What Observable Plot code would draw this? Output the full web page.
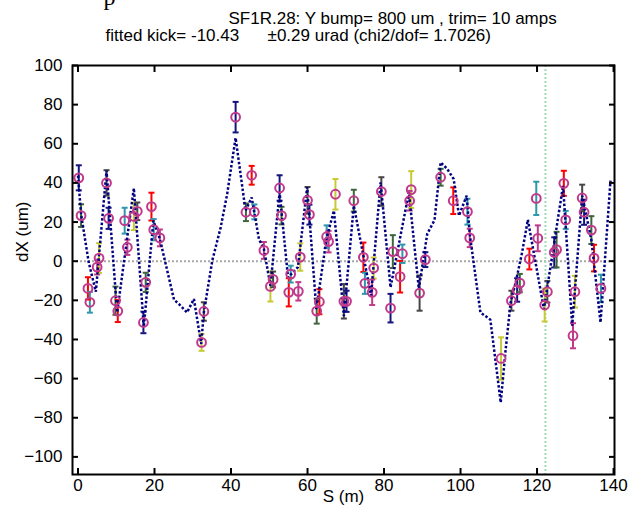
<!DOCTYPE html>
<html><head><meta charset="utf-8">
<script src="https://cdn.jsdelivr.net/npm/d3@7"></script>
<script src="https://cdn.jsdelivr.net/npm/@observablehq/plot@0.6"></script>
<style>
html,body{margin:0;padding:0;background:#fff;}
#chart svg{display:block;}
</style></head><body><div id="chart"></div>
<script>
// BPM measurements (S in m, dX in um, error in um)
const bpmS = [0.2,0.8,2.6,3.1,5.0,5.5,7.45,8.0,9.8,10.4,12.2,12.9,14.6,15.5,17.1,17.7,19.2,19.8,21.4,32.3,32.9,
  41.2,43.9,45.4,46.1,48.6,50.3,51.0,52.7,53.2,55.1,55.6,57.6,58.1,60.0,60.5,62.4,63.1,65.0,65.5,67.3,69.5,70.2,
  72.1,74.6,75.0,76.9,77.3,79.3,81.7,82.3,84.2,84.8,86.7,87.1,89.3,90.8,94.8,98.1,101.8,102.4,110.6,113.3,114.8,
  115.5,118.0,119.8,120.2,122.0,122.7,124.5,125.1,127.0,127.5,129.4,129.9,131.8,132.3,134.2,134.9,136.7];
const bpmDx = [42.6,23.3,-13.9,-21.0,-3.0,1.6,40.0,21.9,-20.2,-25.5,20.7,7.1,22.9,25.5,-31.3,-10.8,27.9,16.1,11.9,-41.5,-25.7,
  73.6,25.0,43.9,25.2,5.5,-12.9,-9.3,37.4,23.3,-15.9,-6.6,-15.4,2.1,31.1,23.8,-25.5,-20.7,12.5,10.0,34.2,-20.5,-20.5,
  30.9,2.0,-11.3,-15.9,-3.5,35.6,-24.0,4.9,-7.9,3.8,30.9,36.6,-16.3,0.8,42.9,30.9,25.3,11.9,-49.7,-20.2,-14.7,
  -11.2,1.1,32.1,11.7,-22.4,-15.6,4.5,5.9,39.8,21.1,-38.1,-15.6,32.3,25.0,15.9,1.6,-13.9];
const bpmErr = [6.4,5.8,5.7,5.3,3.8,7.6,6.5,5.4,7.2,5.6,6.6,3.9,7.0,4.5,5.5,4.9,7.1,5.4,4.3,4.3,4.7,
  7.8,4.5,4.8,3.8,4.3,7.7,4.0,6.5,4.5,7.2,4.3,4.7,7.0,6.8,5.1,6.4,6.4,5.8,5.5,7.8,8.8,5.4,
  5.6,7.5,5.4,6.5,5.4,7.3,7.3,8.4,8.1,4.7,5.0,9.4,9.0,3.8,4.3,6.8,6.6,4.7,10.8,5.1,6.0,
  4.7,5.3,8.5,6.6,8.4,5.5,7.7,9.1,6.4,4.6,6.4,8.1,6.8,6.4,7.1,6.8,7.0];
// fitted model orbit
const modelS = [0,0.8,2.8,4.66,7.45,10.24,14.6,17.2,19.7,21.4,25.1,26.4,28.5,30.3,32.2,32.9,35.1,37.3,39.0,40.3,41.2,
  43.8,45.4,47.3,48.6,50.3,52.7,54.9,57.5,59.9,62.3,65.0,66.9,69.5,72.1,76.6,79.1,81.7,86.5,89.1,91.3,93.2,94.8,
  96.5,98.2,99.6,101.6,102.4,105.2,107.8,110.5,111.8,113.1,114.4,116.1,117.6,121.8,126.8,129.2,131.8,134.2,136.6,139.2];
const modelDx = [43.7,24,-0.6,-15.6,46.3,-26.2,37.3,-33.8,20.7,11.3,-19.7,-21.9,-26.2,-19.3,-42.3,-26.2,0.3,17.3,34.4,51.4,63,
  25.8,32.6,11.3,6.2,-12.6,35.2,-8.3,-3,37.8,-24.5,12,25.8,-27.9,28.4,-17.6,40.3,-13.4,35.2,-14.2,14,21,50.5,
  47.2,42,23.3,33.5,14,-26.2,-29.9,-72.2,-45,-21,-11,4.5,21.2,-24.5,38.6,-33,33.5,11,-31.3,41.2];
const markerS = 122.2;
const xTicks = [0,20,40,60,80,100,120,140];
const yTicks = [-100,-80,-60,-40,-20,0,20,40,60,80,100];
const title1 = "SF1R.28: Y bump= 800 um , trim= 10 amps";
const title2 = "fitted kick= -10.43\u00a0\u00a0\u00a0\u00a0\u00a0\u00a0\u00b10.29 urad (chi2/dof= 1.7026)";
const xLabel = "S (m)";
const yLabel = "dX (um)";
const barColors = ["#14147e","#3e653e","#ff0000","#2f97ab","#c03a8a","#c9c935","#464646"];

const bpm = bpmS.map((s, i) => ({s, dx: bpmDx[i], err: bpmErr[i], c: barColors[i % barColors.length]}));
const model = modelS.map((s, i) => ({s, dx: modelDx[i]}));
const cap = {draw(ctx, size) { const r = Math.sqrt(size / Math.PI); ctx.moveTo(-r, 0); ctx.lineTo(r, 0); }};
const font = "'Liberation Sans Narrow','Arial Narrow','Liberation Sans',sans-serif";

const chart = Plot.plot({
  width: 639, height: 510,
  marginLeft: 72, marginRight: 25, marginTop: 65, marginBottom: 36,
  style: {fontFamily: font, fontSize: "17px", color: "black", background: "white", overflow: "visible"},
  x: {domain: [-1.44, 140.25]},
  y: {domain: [-109, 100]},
  color: {type: "identity"},
  marks: [
    Plot.ruleY([0], {stroke: "#a8a8a8", strokeWidth: 2, strokeDasharray: "2,2"}),
    Plot.ruleX([markerS], {stroke: "#9fdab6", strokeWidth: 2, strokeDasharray: "2,2"}),
    Plot.ruleX(bpm, {x: "s", y1: d => d.dx - d.err, y2: d => d.dx + d.err, stroke: "c", strokeWidth: 2}),
    Plot.dot(bpm, {x: "s", y: d => d.dx - d.err, symbol: cap, r: 3, stroke: "c", strokeWidth: 2}),
    Plot.dot(bpm, {x: "s", y: d => d.dx + d.err, symbol: cap, r: 3, stroke: "c", strokeWidth: 2}),
    Plot.line(model, {x: "s", y: "dx", stroke: "#000080", strokeWidth: 2.5, strokeDasharray: "2.5,2",
      strokeLinecap: "butt", strokeLinejoin: "miter"}),
    Plot.dot(bpm, {x: "s", y: "dx", r: 4.4, stroke: "#c0398b", strokeWidth: 2, fill: "none"}),
    Plot.frame({stroke: "black", strokeWidth: 2}),
    Plot.axisX(xTicks, {anchor: "bottom", tickSize: -6, tickPadding: 10, strokeWidth: 2, label: null}),
    Plot.axisX(xTicks, {anchor: "top", tickSize: -6, tickFormat: () => "", strokeWidth: 2, label: null}),
    Plot.axisY(yTicks, {anchor: "left", tickSize: -6, tickPadding: 16, strokeWidth: 2, label: null}),
    Plot.axisY(yTicks, {anchor: "right", tickSize: -6, tickFormat: () => "", strokeWidth: 2, label: null}),
    Plot.text([yLabel], {frameAnchor: "left", dx: -50, dy: -8, rotate: -90, fontSize: 17}),
    Plot.text([xLabel], {frameAnchor: "bottom", dy: 27, fontSize: 17}),
    Plot.text([title1], {frameAnchor: "top-left", dx: 156, dy: -54, textAnchor: "start", lineAnchor: "top", fontSize: 17}),
    Plot.text([title2], {frameAnchor: "top-left", dx: 33, dy: -37, textAnchor: "start", lineAnchor: "top", fontSize: 17}),
    Plot.text(["p"], {frameAnchor: "top-left", dx: 31, dy: -78, fontSize: 24, fontFamily: "'Liberation Serif',serif"})
  ]
});
document.getElementById("chart").appendChild(chart);
</script></body></html>
